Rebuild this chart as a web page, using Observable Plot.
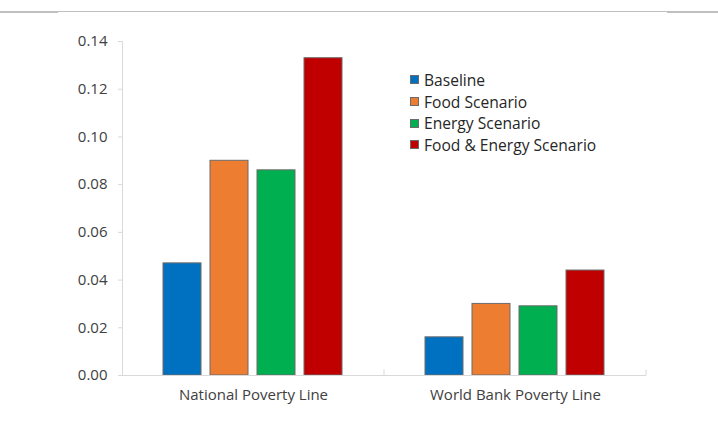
<!DOCTYPE html>
<html>
<head>
<meta charset="utf-8">
<script src="https://cdn.jsdelivr.net/npm/d3@7"></script>
<script src="https://cdn.jsdelivr.net/npm/@observablehq/plot@0.6"></script>
<style>
  html, body { margin: 0; padding: 0; background: #fff; }
  #chart { position: relative; width: 718px; height: 424px; overflow: hidden; font-family: "Open Sans", sans-serif; }
  .rule-top { position: absolute; top: 11px; left: 0; width: 718px; height: 1px; background: #bfbfbf; }
  .rule-top .edge { position: absolute; top: 0; height: 2px; background: #bfbfbf; }
  .legend { position: absolute; left: 410px; top: 69px; font-size: 15.6px; color: #262626; }
  .legend .item { display: flex; align-items: center; height: 21.7px; }
  .legend .sw { width: 9px; height: 9px; box-sizing: border-box; border: 1px solid #6b6b6b; margin-right: 5px; }
</style>
</head>
<body>
<div id="chart">
  <div class="rule-top"><div class="edge" style="left:0;width:58px"></div><div class="edge" style="left:667px;width:51px"></div></div>
</div>
<script>
// Poverty headcount under each price scenario
const categories = ["National Poverty Line", "World Bank Poverty Line"];
const scenarios = ["Baseline", "Food Scenario", "Energy Scenario", "Food & Energy Scenario"];
const nationalValues = [0.047, 0.090, 0.086, 0.133];
const worldBankValues = [0.016, 0.030, 0.029, 0.044];
const scenarioColors = ["#0070C0", "#ED7D31", "#00B050", "#C00000"];
const yTicks = [0, 0.02, 0.04, 0.06, 0.08, 0.10, 0.12, 0.14];

const rows = [
  ...scenarios.map((s, i) => ({category: categories[0], scenario: s, value: nationalValues[i]})),
  ...scenarios.map((s, i) => ({category: categories[1], scenario: s, value: worldBankValues[i]}))
];

const axisGray = "#d9d9d9";
const textColor = "#404040";

const plot = Plot.plot({
  width: 718,
  height: 424,
  marginLeft: 122,
  marginRight: 72,
  marginTop: 41,
  marginBottom: 49,
  style: {fontFamily: "Open Sans, sans-serif", fontSize: "15px", color: textColor, background: "transparent", overflow: "visible"},
  fx: {domain: categories, padding: 0, label: null},
  x: {domain: scenarios, paddingInner: 0.187, paddingOuter: 0.85, axis: null},
  y: {domain: [0, 0.14], label: null},
  color: {domain: scenarios, range: scenarioColors},
  marks: [
    Plot.barY(rows, {fx: "category", x: "scenario", y: "value", fill: "scenario", stroke: "#6b6b6b", strokeWidth: 1}),
    Plot.axisY({ticks: yTicks, tickFormat: d3.format(".2f"), tickSize: 4, tickPadding: 11, stroke: axisGray, fill: textColor, label: null}),
    Plot.axisFx({anchor: "bottom", tickSize: 0, tickPadding: 14, fill: textColor, label: null})
  ]
});

// Axis lines and category dividers, placed with the plot's own scales
const fx = plot.scale("fx");
const y = plot.scale("y");
const svg = d3.select(plot);
const x0 = fx.range[0], x1 = fx.range[1];
const yBase = Math.round(y.apply(0)) + 0.5;
const g = svg.append("g").attr("stroke", axisGray).attr("fill", "none");
g.append("line").attr("x1", x0 + 0.5).attr("x2", x0 + 0.5).attr("y1", y.apply(0.14)).attr("y2", yBase);
g.append("line").attr("x1", x0).attr("x2", x1).attr("y1", yBase).attr("y2", yBase);
categories.forEach(c => {
  const xe = fx.apply(c) + fx.bandwidth;
  g.append("line").attr("x1", xe).attr("x2", xe).attr("y1", yBase).attr("y2", yBase - 6);
});

const chart = document.getElementById("chart");
chart.appendChild(plot);
plot.style.position = "absolute";
plot.style.left = "0";
plot.style.top = "0";

// Legend
const legend = document.createElement("div");
legend.className = "legend";
scenarios.forEach((s, i) => {
  const item = document.createElement("div");
  item.className = "item";
  const sw = document.createElement("span");
  sw.className = "sw";
  sw.style.background = scenarioColors[i];
  const label = document.createElement("span");
  label.textContent = s;
  item.appendChild(sw);
  item.appendChild(label);
  legend.appendChild(item);
});
chart.appendChild(legend);
</script>
</body>
</html>
